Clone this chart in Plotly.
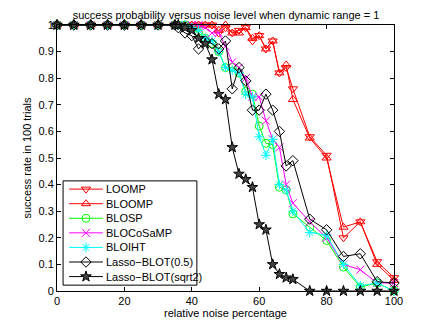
import plotly.graph_objects as go

# noise levels (%)
noise = [0, 5, 10, 15, 20, 25, 30, 35,
         36, 38, 40, 42, 44, 46, 48, 50, 52, 54, 56, 58, 60, 62, 64, 66, 68, 70,
         75, 80, 85, 90, 95, 100]

ones = [1.0] * 8

loomp = ones + [1, 1, 1, 1, 1, 1, 0.97, 0.99, 0.97, 0.98, 0.99, 0.94, 0.96, 0.91, 0.94, 0.82, 0.84, 0.76,
                0.58, 0.51, 0.20, 0.26, 0.11, 0.05]
bloomp = ones + [1, 1, 1, 1, 1, 1, 0.98, 1.0, 0.97, 0.97, 0.99, 0.95, 0.96, 0.91, 0.94, 0.82, 0.85, 0.72,
                 0.575, 0.50, 0.24, 0.26, 0.10, 0.04]
blosp = ones + [1, 1, 0.99, 0.97, 0.95, 0.93, 0.90, 0.84, 0.84, 0.82, 0.75, 0.74, 0.62, 0.555, 0.55, 0.39, 0.38, 0.29,
                0.24, 0.19, 0.09, 0.015, 0.03, 0.0]
blocosamp = ones + [1, 1, 1, 1, 0.99, 0.97, 0.97, 0.92, 0.86, 0.84, 0.80, 0.73, 0.73, 0.64, 0.57, 0.54, 0.40, 0.33,
                    0.26, 0.20, 0.10, 0.08, 0.03, 0.03]
bloiht = ones + [1, 1, 0.99, 0.98, 0.95, 0.94, 0.90, 0.84, 0.83, 0.82, 0.74, 0.73, 0.58, 0.51, 0.57, 0.40, 0.38, 0.30,
                 0.22, 0.21, 0.10, 0.02, 0.03, 0.0]
lasso_05 = ones + [0.99, 0.97, 0.96, 0.91, 0.94, 0.93, 0.91, 0.94, 0.76, 0.84, 0.79, 0.68, 0.68, 0.74, 0.68, 0.60, 0.47, 0.49,
                   0.27, 0.23, 0.13, 0.14, 0.035, 0.03]
lasso_sqrt2 = ones + [1, 0.99, 0.98, 0.95, 0.93, 0.87, 0.74, 0.72, 0.54, 0.44, 0.42, 0.39, 0.25, 0.23, 0.10, 0.063, 0.05, 0.044,
                      0, 0, 0, 0, 0, 0]

series = [
    ("LOOMP", loomp, "#ff0000", "triangle-down-open", None),
    ("BLOOMP", bloomp, "#ff0000", "triangle-up-open", None),
    ("BLOSP", blosp, "#00ff00", "circle-open", None),
    ("BLOCoSaMP", blocosamp, "#ff00ff", "x-thin-open", None),
    ("BLOIHT", bloiht, "#00ffff", "asterisk-open", None),
    ("Lasso\u2212BLOT(0.5)", lasso_05, "#000000", "diamond-open", None),
    ("Lasso\u2212BLOT(sqrt2)", lasso_sqrt2, "#000000", "star", "#444444"),
]

fig = go.Figure()
for name, vals, color, symbol, fill in series:
    marker = dict(symbol=symbol, size=8, color=fill if fill else color,
                  line=dict(color=color, width=1))
    fig.add_trace(go.Scatter(
        x=noise, y=vals, name=name, mode="lines+markers", showlegend=False,
        line=dict(color=color, width=1), marker=marker, cliponaxis=False
    ))

# MATLAB-like legend box drawn inside the axes (axis units)
leg_x0, leg_x1 = 1.8, 41.5
leg_y0, leg_y1 = 0.022, 0.414
row_top, row_step = 0.383, 0.0548
line_x0, line_x1, mark_x, text_x = 3.6, 13.6, 8.6, 14.0

fig.add_shape(type="rect", x0=leg_x0, x1=leg_x1, y0=leg_y0, y1=leg_y1,
              line=dict(color="black", width=1), fillcolor="white", layer="below")
for i, (name, vals, color, symbol, fill) in enumerate(series):
    yy = row_top - i * row_step
    fig.add_shape(type="line", x0=line_x0, x1=line_x1, y0=yy, y1=yy,
                  line=dict(color=color, width=1), layer="below")
    fig.add_trace(go.Scatter(
        x=[mark_x], y=[yy], mode="markers", showlegend=False, hoverinfo="skip",
        marker=dict(symbol=symbol, size=8, color=fill if fill else color,
                    line=dict(color=color, width=1))
    ))
    fig.add_annotation(x=text_x, y=yy, text=name, showarrow=False,
                       xanchor="left", yanchor="middle", font=dict(size=11, color="black"))

axis_style = dict(
    showline=True, linecolor="black", linewidth=1, mirror="ticks",
    ticks="inside", ticklen=4, tickcolor="black", showgrid=False, zeroline=False,
    tickfont=dict(size=11, color="black"), automargin=False,
)

fig.update_xaxes(range=[0, 100], tickvals=[0, 20, 40, 60, 80, 100],
                 title=dict(text="relative noise percentage", font=dict(size=11), standoff=2),
                 **axis_style)
fig.update_yaxes(range=[0, 1], tickvals=[i / 10 for i in range(11)],
                 ticktext=["0", "0.1", "0.2", "0.3", "0.4", "0.5", "0.6", "0.7", "0.8", "0.9", "1"],
                 title=dict(text="success rate in 100 trials", font=dict(size=11), standoff=4),
                 **axis_style)

# the page body adds an 8px offset, so margins are shifted to compensate
fig.update_layout(
    width=436, height=328,
    margin=dict(l=49, r=50, t=17, b=45),
    paper_bgcolor="white", plot_bgcolor="white",
    font=dict(family="Liberation Sans, Arial, sans-serif", size=11, color="black"),
    title=dict(text="success probability versus noise level when dynamic range = 1",
               x=0.5, xanchor="center", y=0.99, yanchor="top", font=dict(size=11)),
    showlegend=False,
)

fig.write_html("out.html")
